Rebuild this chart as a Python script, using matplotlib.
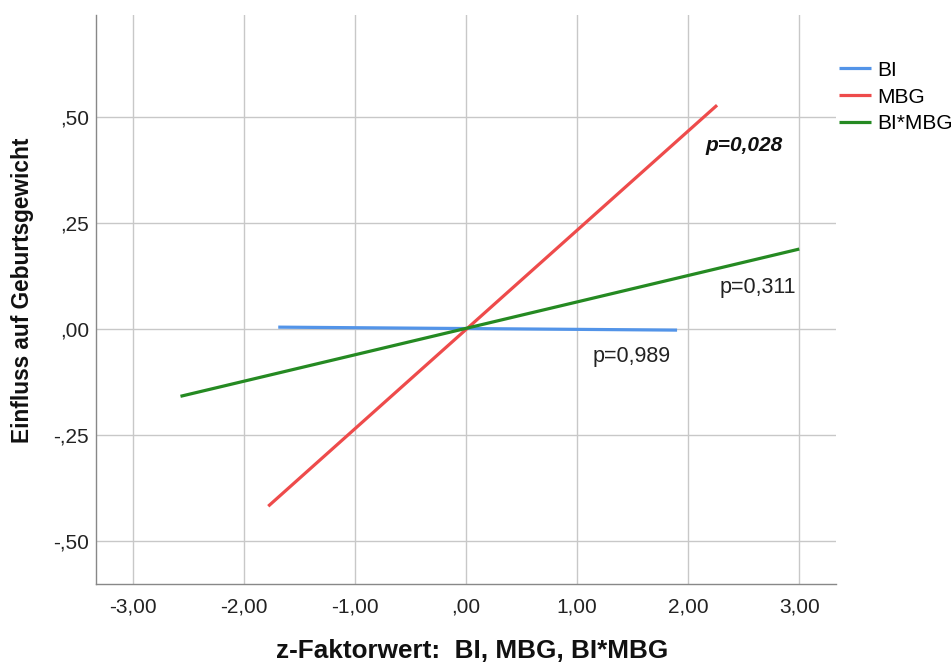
import matplotlib
matplotlib.use('Agg')
import matplotlib.pyplot as plt

plt.rcParams['font.family'] = ['Liberation Sans', 'DejaVu Sans']

# line endpoints (z-factor value, effect on birth weight)
bi_x = [-1.69, 1.90]
bi_y = [0.005, -0.002]
mbg_x = [-1.78, 2.26]
mbg_y = [-0.417, 0.528]
inter_x = [-2.57, 3.00]
inter_y = [-0.158, 0.189]

x_ticks = [-3, -2, -1, 0, 1, 2, 3]
x_labels = ['-3,00', '-2,00', '-1,00', ',00', '1,00', '2,00', '3,00']
y_ticks = [-0.5, -0.25, 0, 0.25, 0.5]
y_labels = ['-,50', '-,25', ',00', ',25', ',50']

fig = plt.figure(figsize=(9.51, 6.62), dpi=100)
fig.patch.set_facecolor('white')
ax = fig.add_axes([0.101, 0.118, 0.778, 0.859])

ax.plot(bi_x, bi_y, color='#5394E8', lw=2.3, label='BI', solid_capstyle='butt')
ax.plot(mbg_x, mbg_y, color='#EE4B4B', lw=2.3, label='MBG', solid_capstyle='butt')
ax.plot(inter_x, inter_y, color='#258A22', lw=2.3, label='BI*MBG', solid_capstyle='butt')

ax.set_xlim(-3.33, 3.33)
ax.set_ylim(-0.60, 0.74)
ax.set_xticks(x_ticks)
ax.set_xticklabels(x_labels)
ax.set_yticks(y_ticks)
ax.set_yticklabels(y_labels)
ax.tick_params(axis='both', length=0, labelsize=15, colors='#222')
ax.tick_params(axis='x', pad=10)
ax.tick_params(axis='y', pad=5)
ax.grid(True, color='#C8C8C8', lw=1.0)
ax.set_axisbelow(True)
for s in ['top', 'right']:
    ax.spines[s].set_visible(False)
for s in ['left', 'bottom']:
    ax.spines[s].set_color('#888888')
    ax.spines[s].set_linewidth(1.0)

# axis titles placed in figure coordinates
fig.text(0.496, 0.017, 'z-Faktorwert:  BI, MBG, BI*MBG', fontsize=18.8,
         fontweight='bold', ha='center', va='center', color='#111')
fig.text(0.024, 0.562, 'Einfluss auf Geburtsgewicht', fontsize=16.3,
         fontweight='bold', ha='center', va='center', rotation=90, color='#111')

ax.text(2.50, 0.434, 'p=0,028', fontsize=15, fontweight='bold', style='italic',
        ha='center', va='center', color='#111')
ax.text(2.63, 0.099, 'p=0,311', fontsize=15.5, ha='center', va='center', color='#222')
ax.text(1.49, -0.064, 'p=0,989', fontsize=15.5, ha='center', va='center', color='#222')

fig.legend(loc='upper left', bbox_to_anchor=(0.873, 0.921), frameon=False,
           fontsize=15, handlelength=1.55, handletextpad=0.3, labelspacing=0.38,
           borderaxespad=0)

plt.savefig('out.png', dpi=100, facecolor='white')
